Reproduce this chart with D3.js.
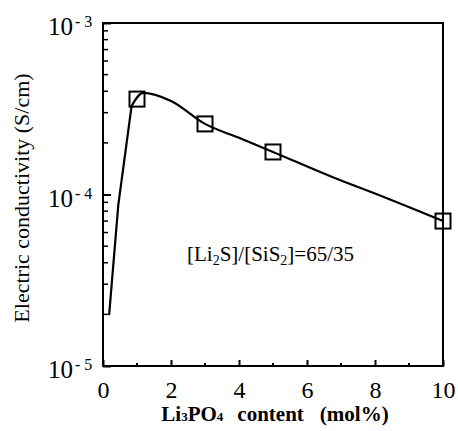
<!DOCTYPE html>
<html>
<head>
<meta charset="utf-8">
<script src="https://cdn.jsdelivr.net/npm/d3@7"></script>
<style>
  body { margin: 0; background: white; }
  text { font-family: "Liberation Serif", "DejaVu Serif", serif; fill: black; }
</style>
</head>
<body>
<div id="chart"></div>
<script>
// measured points (squares)
const pointX = [1, 3, 5, 10]
const pointY = [3.6e-4, 2.58e-4, 1.77e-4, 7.0e-5]
// fitted line
const curveX = [0.18, 0.45, 0.84, 1.18, 2, 3, 4, 5, 6.76, 8.24, 10]
const curveY = [1.98e-5, 8.7e-5, 3.28e-4, 3.91e-4, 3.51e-4, 2.58e-4, 2.14e-4, 1.77e-4, 1.26e-4, 9.7e-5, 7.0e-5]
const xTicks = [0, 2, 4, 6, 8, 10]
const xMinor = [1, 3, 5, 7, 9]
const yDecades = [-5, -4, -3]

const sizing = { width: 458, height: 431 }
const plot = { left: 103, right: 443, top: 23, bottom: 366 }

const svg = d3.select("#chart").append("svg")
    .attr("width", sizing.width)
    .attr("height", sizing.height)

const x = d3.scaleLinear().domain([0, 10]).range([plot.left, plot.right])
const y = d3.scaleLog().domain([1e-5, 1e-3]).range([plot.bottom, plot.top])

// frame
svg.append("rect")
    .attr("x", plot.left).attr("y", plot.top)
    .attr("width", plot.right - plot.left)
    .attr("height", plot.bottom - plot.top)
    .attr("fill", "none").attr("stroke", "black").attr("stroke-width", 2)

// bottom axis, ticks pointing in
const xAxis = svg.append("g").attr("transform", `translate(0,${plot.bottom})`)
xAxis.call(d3.axisBottom(x).tickValues(xTicks).tickSizeInner(-6).tickSizeOuter(0).tickPadding(15).tickFormat(d3.format("d")))
xAxis.select(".domain").remove()
xAxis.attr("font-family", null)
xAxis.selectAll("line").attr("stroke-width", 2)
xAxis.selectAll("text").attr("font-size", 24)
xAxis.append("g").selectAll("line").data(xMinor).join("line")
    .attr("x1", d => x(d)).attr("x2", d => x(d))
    .attr("y1", 0).attr("y2", -3)
    .attr("stroke", "black").attr("stroke-width", 2)

// left axis, minor ticks 2..9 in each decade
const yMinor = []
yDecades.slice(0, -1).forEach(e => { for (let k = 2; k <= 9; k++) yMinor.push(k * Math.pow(10, e)) })
const yAxis = svg.append("g").attr("transform", `translate(${plot.left},0)`)
yAxis.call(d3.axisLeft(y).tickValues(yDecades.map(e => Math.pow(10, e))).tickSizeInner(-8).tickSizeOuter(0).tickFormat(""))
yAxis.select(".domain").remove()
yAxis.selectAll("line").attr("stroke-width", 2)
yAxis.append("g").selectAll("line").data(yMinor).join("line")
    .attr("x1", 0).attr("x2", 5)
    .attr("y1", d => y(d)).attr("y2", d => y(d))
    .attr("stroke", "black").attr("stroke-width", 1.5)

const yLab = svg.append("g").selectAll("text").data(yDecades).join("text")
    .attr("x", 48).attr("y", d => y(Math.pow(10, d)) + 12)
    .attr("font-size", 25)
yLab.append("tspan").text("10")
yLab.append("tspan").text(d => "- " + (-d))
    .attr("font-size", 16).attr("dx", 2).attr("dy", -8)

// axis titles
svg.append("text")
    .attr("transform", "translate(29,198) rotate(-90)")
    .attr("text-anchor", "middle")
    .attr("font-size", 22)
    .text("Electric conductivity (S/cm)")

const xt = svg.append("text")
    .attr("x", 275).attr("y", 421)
    .attr("text-anchor", "middle")
    .attr("font-size", 21).attr("font-weight", "bold")
xt.append("tspan").text("Li")
xt.append("tspan").text("3").attr("font-size", 13)
xt.append("tspan").text("PO")
xt.append("tspan").text("4").attr("font-size", 13)
xt.append("tspan").text("content").attr("dx", 14)
xt.append("tspan").text("(mol%)").attr("dx", 16)

// annotation
const ann = svg.append("text").attr("x", 187).attr("y", 261).attr("font-size", 21)
ann.append("tspan").text("[Li")
ann.append("tspan").text("2").attr("font-size", 14).attr("dy", 4)
ann.append("tspan").text("S]/[SiS").attr("dy", -4)
ann.append("tspan").text("2").attr("font-size", 14).attr("dy", 4)
ann.append("tspan").text("]=65/35").attr("dy", -4)

// line: steep rise drawn straight, the rest smoothed
const curve = curveX.map((d, i) => ({ x: d, y: curveY[i] }))
const lineGroup = svg.append("g")
    .attr("fill", "none").attr("stroke", "black").attr("stroke-width", 2.2)
    .attr("stroke-linejoin", "round")
lineGroup.append("path").datum(curve.slice(0, 3))
    .attr("d", d3.line().x(d => x(d.x)).y(d => y(d.y)))
lineGroup.append("path").datum(curve.slice(2))
    .attr("d", d3.line().x(d => x(d.x)).y(d => y(d.y)).curve(d3.curveMonotoneX))

// squares
const pts = pointX.map((d, i) => ({ x: d, y: pointY[i] }))
svg.append("g").selectAll("rect").data(pts).join("rect")
    .attr("x", d => x(d.x) - 7.5).attr("y", d => y(d.y) - 7.5)
    .attr("width", 15).attr("height", 15)
    .attr("fill", "none").attr("stroke", "black").attr("stroke-width", 2)
</script>
</body>
</html>
